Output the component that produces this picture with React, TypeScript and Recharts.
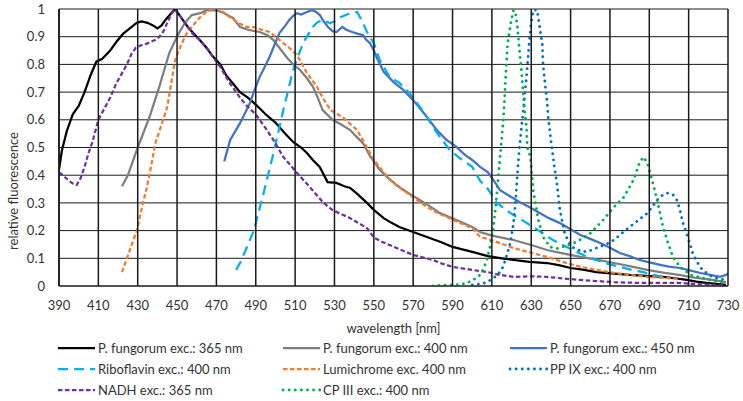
import React from 'react';
import { LineChart, Line, XAxis, YAxis, CartesianGrid, Legend } from 'recharts';

type P = [number, number];

const xTicks = [390, 410, 430, 450, 470, 490, 510, 530, 550, 570, 590, 610, 630, 650, 670, 690, 710, 730];
const yTicks = [0, 0.1, 0.2, 0.3, 0.4, 0.5, 0.6, 0.7, 0.8, 0.9, 1];
const xDomain: [number, number] = [390, 730];

const pfExc365: P[] = [[390,0.42],[391.5,0.49],[394,0.56],[397,0.62],[400,0.65],[403,0.7],[406,0.76],[409,0.81],[412,0.82],[416,0.85],[419,0.88],[422.5,0.91],[426,0.93],[429.5,0.95],[432,0.955],[435,0.95],[438,0.94],[440,0.93],[442,0.94],[444,0.96],[447,0.985],[449,1.0],[452,0.97],[456,0.93],[460,0.9],[465,0.86],[468,0.83],[472,0.8],[475,0.76],[478.5,0.73],[482,0.7],[486,0.68],[490,0.655],[495,0.62],[500,0.59],[505,0.55],[509,0.52],[513,0.5],[516,0.48],[519,0.455],[522.5,0.43],[526.5,0.375],[531,0.372],[535,0.36],[538,0.354],[542,0.33],[546.5,0.3],[550,0.275],[555,0.245],[559,0.228],[563,0.213],[570,0.195],[577,0.177],[584,0.159],[590,0.141],[600,0.123],[608,0.108],[615,0.1],[621,0.094],[629,0.087],[638,0.083],[644,0.075],[650,0.065],[657,0.058],[663,0.05],[672,0.045],[680,0.04],[690,0.036],[697,0.033],[703,0.028],[709,0.022],[714,0.016],[719,0.011],[724,0.008],[729,0.004]];

const pfExc400: P[] = [[422,0.36],[425,0.4],[428,0.46],[430,0.5],[433,0.555],[436,0.61],[438.5,0.665],[441,0.72],[443.5,0.78],[446,0.84],[449,0.885],[451.5,0.92],[454,0.95],[457.5,0.978],[461.7,0.985],[465,0.996],[468,0.995],[470,0.996],[474,0.985],[478.5,0.967],[482,0.935],[486,0.925],[492,0.917],[496,0.905],[499,0.888],[502,0.86],[506,0.823],[509,0.8],[512.5,0.78],[516,0.75],[519,0.72],[521.5,0.68],[524,0.635],[529,0.6],[533,0.585],[538,0.563],[541,0.54],[544.5,0.516],[548,0.47],[553,0.42],[558,0.385],[563,0.357],[568,0.333],[573.5,0.31],[578,0.29],[583.6,0.263],[592,0.238],[600,0.213],[604,0.195],[610,0.182],[621,0.166],[630,0.148],[638,0.13],[646,0.118],[655,0.105],[664,0.094],[672,0.083],[680,0.072],[689,0.058],[697,0.048],[705,0.04],[713,0.03],[722,0.022],[729,0.014]];

const pfExc450: P[] = [[474,0.45],[477,0.527],[482,0.588],[487,0.66],[489.5,0.71],[492,0.755],[494.5,0.79],[497,0.827],[499.5,0.87],[502,0.913],[505,0.94],[507,0.96],[509,0.975],[511,0.985],[513,0.98],[516,0.989],[518.6,0.996],[520.5,0.99],[522.6,0.978],[524.5,0.955],[526.7,0.935],[529,0.92],[531,0.917],[534,0.935],[536,0.925],[539,0.917],[542,0.91],[544.5,0.906],[546,0.89],[548,0.877],[550,0.85],[551.6,0.823],[555,0.773],[560,0.736],[565,0.708],[570,0.671],[573,0.645],[577,0.61],[582,0.563],[587,0.527],[592,0.502],[596,0.475],[600,0.455],[604,0.43],[608,0.41],[612,0.37],[614,0.347],[619,0.325],[624,0.303],[629,0.285],[634.5,0.263],[639,0.245],[644.6,0.227],[650,0.205],[655,0.184],[660,0.17],[665,0.155],[670,0.138],[675,0.119],[680,0.108],[685,0.094],[690,0.085],[695.5,0.076],[700,0.07],[705.6,0.065],[710,0.057],[716,0.047],[721,0.04],[726,0.033],[729,0.04],[730,0.045]];

const riboflavin: P[] = [[480,0.058],[482,0.083],[485.5,0.14],[489,0.2],[494,0.336],[499,0.48],[504,0.635],[509,0.78],[514,0.877],[519,0.935],[521,0.95],[523.6,0.96],[527.7,0.949],[530,0.955],[533,0.97],[538,0.985],[541.5,0.989],[543,0.97],[544.5,0.949],[547,0.91],[550,0.877],[553,0.816],[558,0.755],[563,0.733],[568,0.697],[573.5,0.646],[577,0.61],[580,0.574],[583.6,0.538],[588.7,0.49],[594,0.46],[600,0.43],[604,0.38],[608,0.35],[612.6,0.3],[617,0.275],[621,0.256],[626,0.235],[631,0.213],[636,0.19],[641,0.166],[646,0.148],[651,0.13],[657,0.11],[663,0.094],[669,0.08],[675,0.069],[681,0.058],[687,0.05],[692,0.04],[697,0.033],[700,0.03]];

const lumichrome: P[] = [[422,0.05],[425,0.11],[427.5,0.16],[429.6,0.2],[432,0.28],[434.7,0.357],[437,0.44],[439,0.516],[442,0.58],[445,0.646],[447,0.73],[449,0.816],[452,0.87],[455,0.913],[458,0.94],[461.7,0.97],[464,0.985],[466.7,0.996],[469,1.0],[472,0.996],[475,0.98],[477,0.97],[481,0.95],[485.5,0.935],[489,0.935],[493,0.925],[497,0.917],[500,0.9],[504,0.877],[507,0.86],[511,0.834],[516,0.769],[521,0.72],[524,0.68],[528,0.635],[534,0.61],[538,0.585],[541.5,0.563],[546.5,0.5],[550,0.455],[557,0.393],[562,0.36],[567,0.336],[572,0.31],[577,0.285],[582,0.265],[587,0.249],[593,0.23],[600,0.209],[604,0.177],[608,0.17],[614,0.155],[621,0.137],[630,0.12],[638,0.105],[646,0.087],[655,0.069],[664,0.057],[672,0.047],[680,0.04],[689,0.033],[699,0.029],[705,0.025]];

const ppIX: P[] = [[600,0.004],[604,0.008],[607,0.012],[610,0.025],[613,0.04],[615.7,0.069],[618,0.12],[619.5,0.16],[621,0.227],[622,0.3],[623,0.408],[624,0.498],[625,0.57],[626,0.635],[627,0.71],[628,0.79],[629,0.88],[629.8,0.94],[631,0.996],[633,0.996],[634,0.95],[635,0.9],[635.6,0.877],[636,0.8],[637,0.73],[638,0.67],[638.6,0.61],[640,0.527],[641,0.47],[642,0.42],[643,0.372],[644.6,0.274],[647,0.19],[649,0.16],[651,0.14],[656,0.123],[660,0.128],[663,0.137],[668,0.15],[672,0.166],[676,0.19],[680,0.213],[684,0.235],[689,0.263],[694,0.31],[697,0.33],[699,0.336],[702,0.33],[704,0.31],[705.6,0.274],[707,0.23],[709,0.19],[712,0.12],[714,0.09],[717,0.058],[722,0.033],[726,0.025],[729,0.022]];

const nadh: P[] = [[390,0.41],[392,0.4],[395,0.38],[397,0.37],[399,0.365],[401,0.39],[403,0.43],[405,0.48],[407,0.52],[410,0.6],[413,0.64],[416,0.68],[419,0.73],[421,0.755],[424.5,0.8],[427,0.84],[429,0.86],[432,0.87],[435,0.876],[438.8,0.888],[441,0.9],[443,0.918],[445,0.95],[447,0.98],[449,1.0],[452,0.97],[455,0.94],[458,0.91],[461.7,0.888],[466,0.85],[469,0.82],[472,0.79],[477,0.73],[482,0.68],[486,0.646],[490,0.62],[495,0.57],[499,0.527],[504,0.466],[511,0.408],[517.5,0.357],[524,0.303],[529,0.274],[538,0.245],[546.5,0.209],[550,0.175],[554,0.16],[558,0.148],[564,0.13],[570,0.112],[580,0.094],[585,0.08],[590,0.069],[600,0.058],[608,0.05],[614,0.04],[621,0.033],[630,0.035],[638,0.033],[646,0.027],[655,0.022],[663,0.018],[672,0.014],[680,0.012],[689,0.011],[697,0.011],[705,0.011],[712,0.008],[720,0.005],[729,0.002]];

const cpIII: P[] = [[580,0.0],[585,0.003],[590,0.004],[594,0.006],[597,0.01],[600,0.02],[603,0.033],[605,0.05],[607.5,0.094],[609,0.14],[610.6,0.2],[612,0.29],[613,0.372],[614.6,0.5],[615.7,0.588],[616.5,0.682],[617.2,0.78],[618,0.877],[619.6,0.949],[621,0.996],[622,0.985],[623,0.935],[624,0.85],[625,0.78],[625.8,0.708],[626.6,0.635],[627.6,0.574],[628,0.5],[629.6,0.466],[631,0.347],[633.6,0.238],[636,0.177],[639.6,0.141],[643,0.135],[646,0.141],[653,0.159],[660,0.19],[666.5,0.238],[672,0.285],[677,0.32],[682,0.383],[685,0.444],[687,0.466],[689,0.444],[691,0.393],[694,0.31],[696.5,0.227],[699,0.166],[702,0.105],[705.6,0.069],[711,0.04],[717,0.029],[722,0.02],[726,0.014],[729,0.02]];

const seriesNames = [
  'P. fungorum exc.: 365 nm',
  'P. fungorum exc.: 400 nm',
  'P. fungorum exc.: 450 nm',
  'Riboflavin exc.: 400 nm',
  'Lumichrome exc. 400 nm',
  'PP IX exc.: 400 nm',
  'NADH exc.: 365 nm',
  'CP III exc.: 400 nm',
];

const FONT = 'Lato, "Open Sans", sans-serif';
const TEXT = '#333333';
const GRID = '#1a1a1a';
const PLOT_TOP = 9;
const PLOT_BOTTOM = 286;

type Style = { color: string; dash?: string; cap: 'butt' | 'round'; width: number };
const styles: Style[] = [
  { color: '#000000', cap: 'butt', width: 2.25 },
  { color: '#7f7f7f', cap: 'butt', width: 2.25 },
  { color: '#4472C4', cap: 'butt', width: 2.25 },
  { color: '#00B0F0', dash: '10 6', cap: 'butt', width: 2.25 },
  { color: '#ED7D31', dash: '4.5 2.5', cap: 'butt', width: 2.25 },
  { color: '#0070C0', dash: '0.1 6', cap: 'round', width: 2.8 },
  { color: '#7030A0', dash: '4.5 2.5', cap: 'butt', width: 2.25 },
  { color: '#00B050', dash: '0.1 6', cap: 'round', width: 2.8 },
];

const seriesData = [pfExc365, pfExc400, pfExc450, riboflavin, lumichrome, ppIX, nadh, cpIII].map((arr) =>
  arr.map(([x, y]) => ({ x, y }))
);

const legendCols = [58, 283, 510];
const legendRows = [10, 31, 52];

const LegendContent = () => (
  <svg width={743} height={64} style={{ display: 'block' }}>
    {seriesNames.map((name, i) => {
      const col = i % 3;
      const row = Math.floor(i / 3);
      const x0 = legendCols[col];
      const y = legendRows[row];
      const s = styles[i];
      return (
        <g key={name}>
          <line
            x1={x0}
            x2={x0 + 37}
            y1={y}
            y2={y}
            stroke={s.color}
            strokeWidth={s.width}
            strokeDasharray={s.dash}
            strokeLinecap={s.cap}
          />
          <text x={x0 + 40} y={y + 4.6} fontSize={13} fontFamily={FONT} fill={TEXT}>
            {name}
          </text>
        </g>
      );
    })}
  </svg>
);

const YLabel = () => (
  <text
    x={18}
    y={191}
    transform="rotate(-90 18 191)"
    textAnchor="middle"
    fontSize={13}
    fontFamily={FONT}
    fill={TEXT}
  >
    relative fluorescence
  </text>
);

// X tick: draws the vertical gridline at the tick position plus its label
const XTick = (props: any) => {
  const { x, y, payload } = props;
  return (
    <g>
      <rect x={x - 0.75} y={PLOT_TOP} width={1.5} height={PLOT_BOTTOM - PLOT_TOP} fill={GRID} />
      <text x={x} y={y} dy="0.71em" textAnchor="middle" fontSize={13} fontFamily={FONT} fill={TEXT}>
        {payload.value}
      </text>
    </g>
  );
};

export default function App() {
  return (
    <div style={{ position: 'absolute', left: 0, top: 0, width: 743, height: 401, background: '#fff' }}>
      <LineChart width={743} height={401} margin={{ top: 9, right: 15, left: 0, bottom: 69 }}>
        <CartesianGrid stroke={GRID} strokeWidth={1} vertical={false} horizontal={true} />
        <XAxis
          type="number"
          dataKey="x"
          domain={xDomain}
          ticks={xTicks}
          allowDataOverflow
          interval={0}
          height={46}
          tickLine={false}
          tickSize={0}
          tickMargin={15}
          axisLine={{ stroke: GRID }}
          tick={<XTick />}
          label={{ value: 'wavelength [nm]', position: 'insideBottom', offset: -1, fontSize: 13, fontFamily: FONT, fill: TEXT }}
        />
        <YAxis
          type="number"
          dataKey="y"
          domain={[0, 1]}
          ticks={yTicks}
          allowDataOverflow
          interval={0}
          width={59}
          tickLine={false}
          tickSize={0}
          tickMargin={14}
          axisLine={{ stroke: GRID, strokeWidth: 1.5 }}
          tick={{ fontSize: 13, fontFamily: FONT, fill: TEXT }}
          tickFormatter={(v: number) => String(Math.round(v * 10) / 10)}
          label={<YLabel />}
        />
        <Legend
          layout="horizontal"
          verticalAlign="middle"
          align="center"
          content={() => <LegendContent />}
          wrapperStyle={{ position: 'absolute', top: 338, left: 0, width: 743, height: 64 }}
        />
        {seriesData.map((d, i) => (
          <Line
            key={seriesNames[i]}
            data={d}
            dataKey="y"
            name={seriesNames[i]}
            type="linear"
            stroke={styles[i].color}
            strokeWidth={styles[i].width}
            strokeDasharray={styles[i].dash}
            strokeLinecap={styles[i].cap}
            dot={false}
            activeDot={false}
            isAnimationActive={false}
          />
        ))}
      </LineChart>
    </div>
  );
}
